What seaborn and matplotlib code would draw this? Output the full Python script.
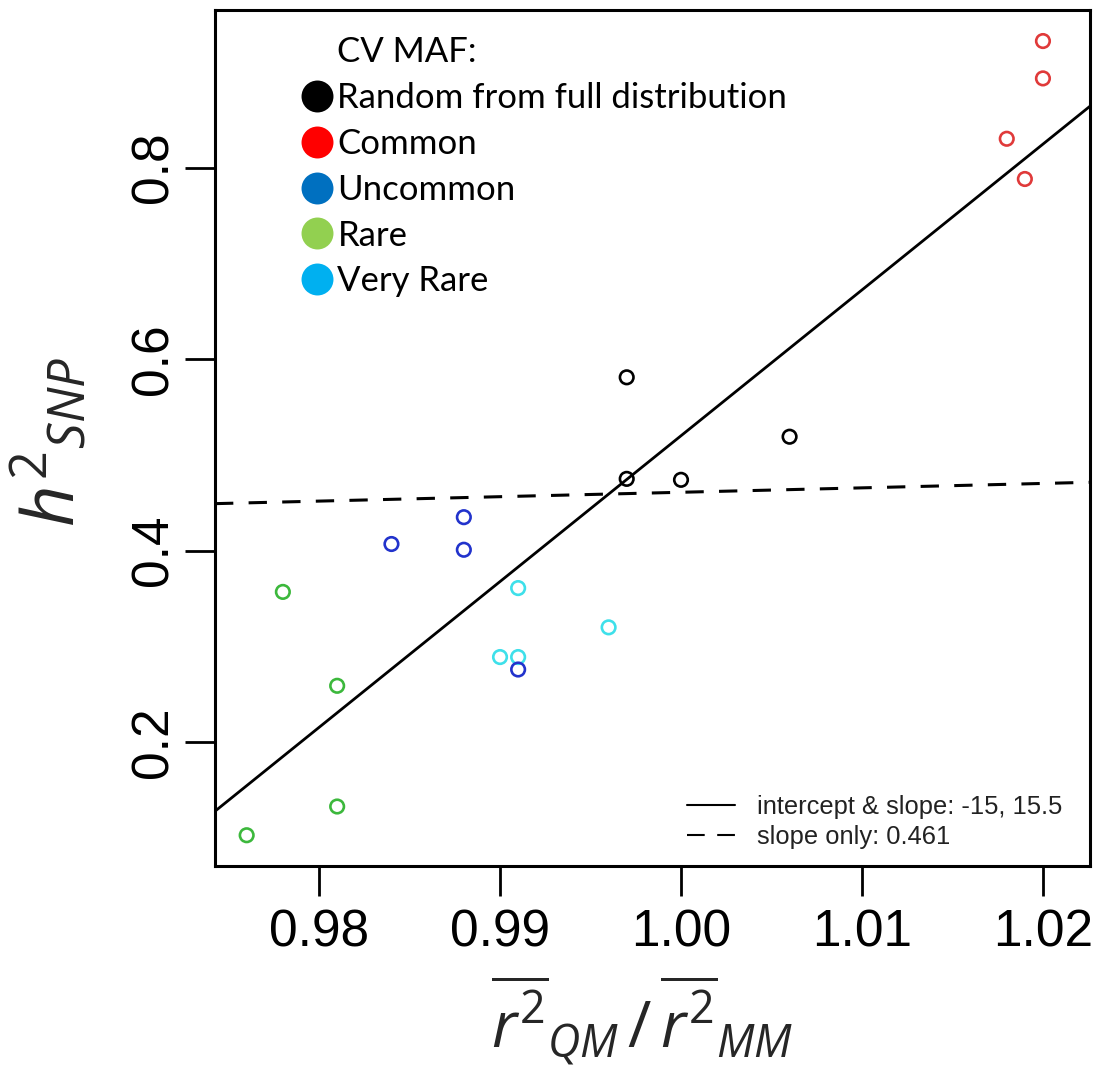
import numpy as np
import pandas as pd
import matplotlib
matplotlib.use("Agg")
import matplotlib.pyplot as plt
from matplotlib.lines import Line2D
import seaborn as sns

# ---------------- data ----------------
groups = ["Random from full distribution", "Common", "Rare", "Very Rare", "Uncommon"]
x_random = [0.997, 0.997, 1.000, 1.006]
y_random = [0.581, 0.475, 0.474, 0.519]
x_common = [1.020, 1.020, 1.018, 1.019]
y_common = [0.932, 0.893, 0.830, 0.788]
x_rare = [0.978, 0.981, 0.981, 0.976]
y_rare = [0.357, 0.259, 0.133, 0.103]
x_veryrare = [0.991, 0.990, 0.991, 0.996]
y_veryrare = [0.361, 0.289, 0.289, 0.320]
x_uncommon = [0.988, 0.988, 0.984, 0.991]
y_uncommon = [0.435, 0.401, 0.407, 0.276]
fit_intercept = -14.70
fit_slope = 15.22
slope_only = 0.461
xticks = [0.98, 0.99, 1.00, 1.01, 1.02]
yticks = [0.2, 0.4, 0.6, 0.8]
legend_labels = ["Random from full distribution", "Common", "Uncommon", "Rare", "Very Rare"]
line_labels = ["intercept & slope: -15, 15.5", "slope only: 0.461"]

point_colors = {"Random from full distribution": "#000000", "Common": "#E03A3A",
                "Uncommon": "#2233CC", "Rare": "#3CB83C", "Very Rare": "#3EE0EA"}
legend_colors = {"Random from full distribution": "#000000", "Common": "#FF0000",
                 "Uncommon": "#0070C0", "Rare": "#92D050", "Very Rare": "#00B0F0"}

xs = [x_random, x_common, x_rare, x_veryrare, x_uncommon]
ys = [y_random, y_common, y_rare, y_veryrare, y_uncommon]
df = pd.DataFrame({
    "x": np.concatenate(xs),
    "y": np.concatenate(ys),
    "group": np.repeat(groups, [len(v) for v in xs]),
})

# ---------------- style ----------------
sns.set_theme(style="white")
plt.rcParams["font.family"] = ["Liberation Sans", "DejaVu Sans"]
plt.rcParams["text.color"] = "black"
plt.rcParams["mathtext.fontset"] = "custom"
plt.rcParams["mathtext.it"] = "Open Sans:italic"
plt.rcParams["mathtext.rm"] = "Open Sans"
plt.rcParams["mathtext.bf"] = "Open Sans:bold"

fig = plt.figure(figsize=(10.96, 10.70), dpi=100)
ax = fig.add_axes([215 / 1096, 1 - 866 / 1070, 875 / 1096, 856 / 1070])

sns.scatterplot(data=df, x="x", y="y", hue="group", palette=point_colors,
                s=95, linewidth=0, legend=False, ax=ax)
coll = ax.collections[0]
fc = coll.get_facecolors()
coll.set_edgecolors(fc)
coll.set_facecolors("none")
coll.set_linewidths(1.9)

# regression lines
ax.axline((0, fit_intercept), slope=fit_slope, color="black", lw=2.0)
ax.axline((0, 0), slope=slope_only, color="black", lw=2.2, dashes=(6, 5))

ax.set_xlim(0.97425, 1.0226)
ax.set_ylim(0.0709, 0.9644)
ax.set_xticks(xticks)
ax.set_xticklabels([f"{v:.2f}" for v in xticks])
ax.set_yticks(yticks)
ax.set_yticklabels([f"{v:.1f}" for v in yticks])
for lab in ax.get_yticklabels():
    lab.set_rotation(90)
    lab.set_va("center")
ax.tick_params(axis="both", direction="out", length=21.5, width=2.0,
               labelsize=37, colors="black", bottom=True, left=True)
ax.tick_params(axis="x", pad=9)
ax.tick_params(axis="y", pad=5)
for sp in ax.spines.values():
    sp.set_linewidth(2.2)
    sp.set_color("black")

ax.set_xlabel(r"$\overline{r^2}_{QM}\,/\,\overline{r^2}_{MM}$", fontsize=46)
ax.xaxis.set_label_coords(0.488, -0.181)
ax.xaxis.label.set_va("center")
ax.set_ylabel(r"$h^2{}_{SNP}$", fontsize=52)
ax.yaxis.set_label_coords(-0.19, 0.495)
ax.yaxis.label.set_va("center")

# line legend (bottom right)
line_handles = [Line2D([], [], color="black", lw=1.5),
                Line2D([], [], color="black", lw=1.5, dashes=(8.5, 6))]
leg1 = ax.legend(line_handles, line_labels, loc="lower left",
                 bbox_to_anchor=(687 / 1096, 1 - 849 / 1070), bbox_transform=fig.transFigure,
                 frameon=False, prop={"family": "Liberation Sans", "size": 18.4},
                 handlelength=1.88, handletextpad=0.86, labelspacing=0.25,
                 borderpad=0, borderaxespad=0)
for t in leg1.get_texts():
    t.set_color("#222222")
ax.add_artist(leg1)

# CV MAF legend (top left)
maf_handles = [Line2D([], [], linestyle="none", marker=None)]
maf_handles += [Line2D([], [], linestyle="none", marker="o", markersize=23,
                       markerfacecolor=legend_colors[g], markeredgewidth=0) for g in legend_labels]
leg2 = ax.legend(maf_handles, ["CV MAF:"] + legend_labels, loc="upper left",
                 bbox_to_anchor=(301 / 1096, 1 - 36 / 1070), bbox_transform=fig.transFigure,
                 frameon=False, prop={"family": "Lato", "size": 25},
                 handlelength=0.9, handletextpad=0.15, labelspacing=0.4,
                 borderpad=0, borderaxespad=0)
for t in leg2.get_texts():
    t.set_color("black")

fig.savefig("out.png", dpi=100)
